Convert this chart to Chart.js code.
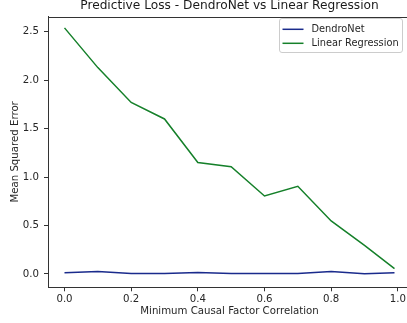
<!DOCTYPE html>
<html>
<head>
<meta charset="utf-8">
<script src="https://cdn.jsdelivr.net/npm/chart.js@4.4.1/dist/chart.umd.min.js"></script>
<style>
  html, body { margin: 0; padding: 0; overflow: hidden; background: #fff; }
  #wrap { position: relative; width: 412px; height: 323px; }
</style>
</head>
<body>
<div id="wrap"><canvas id="c"></canvas></div>
<script>
const correlations = [0, 0.1, 0.2, 0.3, 0.4, 0.5, 0.6, 0.7, 0.8, 0.9, 0.99];
const dendroNetMSE = [0.012, 0.025, 0.006, 0.004, 0.016, 0.006, 0.006, 0.004, 0.026, 0.002, 0.012];
const linearRegressionMSE = [2.54, 2.13, 1.77, 1.60, 1.15, 1.107, 0.805, 0.905, 0.547, 0.296, 0.055];
const xTicks = [0, 0.2, 0.4, 0.6, 0.8, 1.0];
const yTicks = [0, 0.5, 1.0, 1.5, 2.0, 2.5];
const seriesNames = ['DendroNet', 'Linear Regression'];
const seriesColors = ['#1a2b8c', '#15802a'];

const FONT = "'DejaVu Sans', sans-serif";

const toPoints = (xs, ys) => xs.map((x, i) => ({ x: x, y: ys[i] }));

const legendBox = {
  id: 'legendBox',
  afterDraw(chart) {
    const ctx = chart.ctx;
    ctx.save();
    const a = chart.chartArea;
    ctx.strokeStyle = '#333';
    ctx.lineWidth = 1;
    ctx.beginPath();
    ctx.moveTo(a.left, Math.round(a.top) + 0.5);
    ctx.lineTo(a.right, Math.round(a.top) + 0.5);
    ctx.moveTo(Math.round(a.right) - 0.5, a.top);
    ctx.lineTo(Math.round(a.right) - 0.5, a.bottom);
    ctx.stroke();
    const x = 279.5, y = 18.5, w = 123, h = 34, r = 2.5;
    ctx.fillStyle = 'rgba(255,255,255,0.8)';
    ctx.strokeStyle = '#cccccc';
    ctx.beginPath();
    ctx.moveTo(x + r, y);
    ctx.lineTo(x + w - r, y);
    ctx.arcTo(x + w, y, x + w, y + r, r);
    ctx.lineTo(x + w, y + h - r);
    ctx.arcTo(x + w, y + h, x + w - r, y + h, r);
    ctx.lineTo(x + r, y + h);
    ctx.arcTo(x, y + h, x, y + h - r, r);
    ctx.lineTo(x, y + r);
    ctx.arcTo(x, y, x + r, y, r);
    ctx.closePath();
    ctx.fill();
    ctx.stroke();
    const rows = [29.3, 43.3];
    chart.data.datasets.forEach((ds, i) => {
      ctx.strokeStyle = ds.borderColor;
      ctx.lineWidth = 1.5;
      ctx.beginPath();
      ctx.moveTo(282.5, rows[i]);
      ctx.lineTo(303.5, rows[i]);
      ctx.stroke();
      ctx.fillStyle = '#262626';
      ctx.font = '9.8px ' + FONT;
      ctx.textBaseline = 'middle';
      ctx.textAlign = 'left';
      ctx.fillText(ds.label, 311.5, rows[i] + 0.5);
    });
    ctx.restore();
  }
};

new Chart(document.getElementById('c'), {
  type: 'line',
  data: {
    datasets: [
      {
        label: seriesNames[0],
        data: toPoints(correlations, dendroNetMSE),
        borderColor: seriesColors[0],
        backgroundColor: seriesColors[0],
        borderWidth: 1.5,
        pointRadius: 0,
        tension: 0,
        fill: false
      },
      {
        label: seriesNames[1],
        data: toPoints(correlations, linearRegressionMSE),
        borderColor: seriesColors[1],
        backgroundColor: seriesColors[1],
        borderWidth: 1.5,
        pointRadius: 0,
        tension: 0,
        fill: false
      }
    ]
  },
  options: {
    responsive: true,
    maintainAspectRatio: false,
    animation: false,
    devicePixelRatio: 1,
    layout: { padding: { left: 0, right: 1, top: 0, bottom: 0 } },
    plugins: {
      legend: { display: false },
      tooltip: { enabled: false },
      title: {
        display: true,
        text: 'Predictive Loss - DendroNet vs Linear Regression',
        fullSize: false,
        color: '#1a1a1a',
        font: { family: FONT, size: 12.2, weight: 'normal', lineHeight: 1 },
        padding: { top: 0, bottom: 4.3 }
      }
    },
    scales: {
      x: {
        type: 'linear',
        min: -0.0495,
        max: 1.0395,
        afterBuildTicks: (s) => { s.ticks = xTicks.map(v => ({ value: v })); },
        afterFit: (s) => { s.height = 35.7; },
        ticks: {
          color: '#262626',
          font: { family: FONT, size: 10.2 },
          padding: 2,
          maxRotation: 0,
          autoSkip: false,
          callback: (v) => Number(v).toFixed(1)
        },
        grid: { display: true, drawOnChartArea: false, drawTicks: true, tickLength: 4, tickColor: '#333', tickWidth: 1 },
        border: { display: true, color: '#333', width: 1 },
        title: {
          display: true,
          text: 'Minimum Causal Factor Correlation',
          color: '#262626',
          font: { family: FONT, size: 10.2, lineHeight: 1.2 },
          padding: { top: 0, bottom: 5.2 }
        }
      },
      y: {
        type: 'linear',
        min: -0.1375,
        max: 2.6575,
        afterBuildTicks: (s) => { s.ticks = yTicks.map(v => ({ value: v })); },
        afterFit: (s) => { s.width = 48; },
        ticks: {
          color: '#262626',
          font: { family: FONT, size: 10.2 },
          padding: 5,
          autoSkip: false,
          callback: (v) => Number(v).toFixed(1)
        },
        grid: { display: true, drawOnChartArea: false, drawTicks: true, tickLength: 4, tickColor: '#333', tickWidth: 1 },
        border: { display: true, color: '#333', width: 1 },
        title: {
          display: true,
          text: 'Mean Squared Error',
          color: '#262626',
          font: { family: FONT, size: 10.2, lineHeight: 1.2 },
          padding: { top: 8.9, bottom: 0 }
        }
      }
    }
  },
  plugins: [legendBox]
});
</script>
</body>
</html>
